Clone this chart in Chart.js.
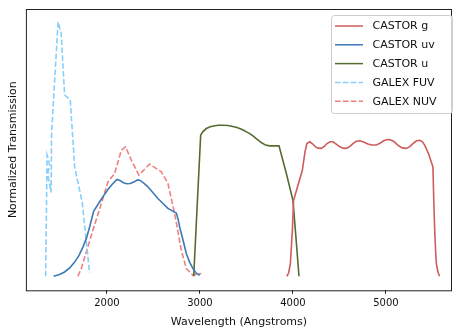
<!DOCTYPE html>
<html>
<head>
<meta charset="utf-8">
<script src="https://cdn.jsdelivr.net/npm/chart.js@4/dist/chart.umd.min.js"></script>
<style>
  html, body { margin: 0; padding: 0; background: #fff; }
  #wrap { width: 453px; height: 329px; }
</style>
</head>
<body>
<div id="wrap"><canvas id="grafico" width="453" height="329"></canvas></div>
<script>
// ── Datos ──────────────────────────────────────
const gOnda   = [3935, 3955, 3972, 3994, 4007, 4054, 4101, 4130, 4150, 4180, 4210, 4240, 4270, 4305, 4340, 4370, 4400, 4430, 4465, 4500, 4540, 4574, 4610, 4645, 4680, 4717, 4760, 4805, 4850, 4897, 4935, 4970, 5005, 5039, 5085, 5130, 5175, 5219, 5255, 5290, 5325, 5362, 5390, 5416, 5460, 5505, 5514, 5524, 5535, 5542, 5560, 5577]
const gTrans  = [0, 0.015, 0.05, 0.181, 0.299, 0.358, 0.417, 0.49, 0.522, 0.529, 0.521, 0.51, 0.504, 0.503, 0.512, 0.523, 0.529, 0.529, 0.52, 0.51, 0.504, 0.503, 0.51, 0.522, 0.531, 0.533, 0.528, 0.52, 0.516, 0.516, 0.523, 0.532, 0.537, 0.538, 0.53, 0.515, 0.505, 0.503, 0.51, 0.522, 0.532, 0.535, 0.53, 0.516, 0.48, 0.43, 0.3, 0.181, 0.09, 0.05, 0.015, 0]

const uvOnda  = [1427, 1490, 1545, 1600, 1653, 1700, 1742, 1780, 1814, 1857, 1922, 1970, 2011, 2060, 2108, 2140, 2172, 2212, 2252, 2300, 2330, 2352, 2390, 2441, 2548, 2656, 2746, 2765, 2782, 2820, 2854, 2890, 2925, 2960, 2997]
const uvTrans = [0, 0.007, 0.017, 0.033, 0.056, 0.082, 0.115, 0.15, 0.194, 0.256, 0.293, 0.32, 0.341, 0.363, 0.381, 0.377, 0.369, 0.364, 0.365, 0.373, 0.379, 0.378, 0.368, 0.352, 0.306, 0.267, 0.249, 0.225, 0.194, 0.14, 0.089, 0.055, 0.03, 0.012, 0.004]

const uOnda   = [2933, 3008, 3030, 3069, 3110, 3160, 3200, 3247, 3300, 3340, 3390, 3427, 3470, 3500, 3535, 3570, 3615, 3660, 3705, 3749, 3800, 3850, 3929, 4000, 4029, 4065]
const uTrans  = [0, 0.555, 0.568, 0.581, 0.588, 0.592, 0.594, 0.594, 0.593, 0.59, 0.586, 0.581, 0.574, 0.568, 0.561, 0.552, 0.538, 0.526, 0.516, 0.513, 0.513, 0.513, 0.404, 0.299, 0.168, 0]

const fuvOnda  = [1341, 1357, 1383, 1365, 1400, 1405, 1475, 1508, 1545, 1606, 1653, 1735, 1814]
const fuvTrans = [0, 0.476, 0.44, 0.40, 0.33, 0.563, 1.0, 0.957, 0.713, 0.693, 0.43, 0.29, 0.012]

const nuvOnda  = [1688, 1725, 1849, 1940, 2011, 2083, 2155, 2201, 2262, 2344, 2459, 2585, 2656, 2728, 2800, 2854, 2925, 3015]
const nuvTrans = [0, 0.031, 0.181, 0.286, 0.371, 0.404, 0.496, 0.509, 0.457, 0.398, 0.441, 0.411, 0.365, 0.247, 0.102, 0.03, 0.004, 0.011]

const ticksX = [2000, 3000, 4000, 5000]

const puntos = (xs, ys) => xs.map((x, i) => ({ x, y: ys[i] }))

// ── Leyenda dentro del área + marco ───────────
const marcoYLeyenda = {
  id: 'marcoYLeyenda',
  afterDraw(chart) {
    const { ctx, chartArea: a } = chart
    ctx.save()
    ctx.strokeStyle = '#222'
    ctx.lineWidth = 1
    ctx.strokeRect(a.left + 0.5, a.top + 0.5, a.right - a.left - 1, a.bottom - a.top)

    // caja de leyenda
    const x0 = 331.5, y0 = 15.5, w = 121, h = 98
    ctx.fillStyle = 'rgba(255,255,255,0.8)'
    ctx.strokeStyle = '#cccccc'
    ctx.beginPath()
    ctx.roundRect(x0, y0, w, h, 3)
    ctx.fill()
    ctx.stroke()

    ctx.font = '11px "DejaVu Sans", sans-serif'
    ctx.textBaseline = 'middle'
    chart.data.datasets.forEach((ds, i) => {
      const y = 26 + i * 18.8
      ctx.strokeStyle = ds.borderColor
      ctx.lineWidth = 1.5
      ctx.setLineDash(ds.borderDash || [])
      ctx.beginPath()
      ctx.moveTo(335, y)
      ctx.lineTo(363, y)
      ctx.stroke()
      ctx.setLineDash([])
      ctx.fillStyle = '#111'
      ctx.fillText(ds.label, 372.5, y + 0.5)
    })
    ctx.restore()
  }
}

const linea = (label, xs, ys, color, dash) => ({
  label,
  data: puntos(xs, ys),
  borderColor: color,
  borderWidth: 1.6,
  borderDash: dash,
  pointRadius: 0,
  fill: false,
  tension: 0
})

new Chart(document.getElementById('grafico'), {
  type: 'line',
  data: {
    datasets: [
      linea('CASTOR g',  gOnda,   gTrans,   '#cd5c5c'),
      linea('CASTOR uv', uvOnda,  uvTrans,  '#3d7ab5'),
      linea('CASTOR u',  uOnda,   uTrans,   '#556b2f'),
      linea('GALEX FUV', fuvOnda, fuvTrans, '#87cefa', [5.5, 2.4]),
      linea('GALEX NUV', nuvOnda, nuvTrans, '#f08080', [5.5, 2.4])
    ]
  },
  options: {
    responsive: false,
    animation: false,
    devicePixelRatio: 1,
    layout: { padding: { top: 9, right: 1, bottom: 0, left: 8 } },
    plugins: { legend: { display: false }, tooltip: { enabled: false } },
    scales: {
      x: {
        type: 'linear',
        min: 1129,
        max: 5710,
        afterBuildTicks: (ax) => { ax.ticks = ticksX.map(v => ({ value: v })) },
        ticks: {
          color: '#111',
          font: { family: 'DejaVu Sans', size: 10 },
          padding: 4,
          maxRotation: 0,
          callback: v => String(v)
        },
        grid: { display: true, drawOnChartArea: false, drawTicks: true, tickLength: 3.5, color: '#222' },
        border: { display: false },
        title: {
          display: true,
          text: 'Wavelength (Angstroms)',
          color: '#111',
          font: { family: 'DejaVu Sans', size: 11 },
          padding: { top: 2, bottom: 0 }
        }
      },
      y: {
        min: -0.055,
        max: 1.051,
        ticks: { display: false },
        grid: { display: false },
        border: { display: false },
        title: {
          display: true,
          text: 'Normalized Transmission',
          color: '#111',
          font: { family: 'DejaVu Sans', size: 11, lineHeight: 0.9 },
          padding: { top: 0, bottom: 0 }
        }
      }
    }
  },
  plugins: [marcoYLeyenda]
})
</script>
</body>
</html>
